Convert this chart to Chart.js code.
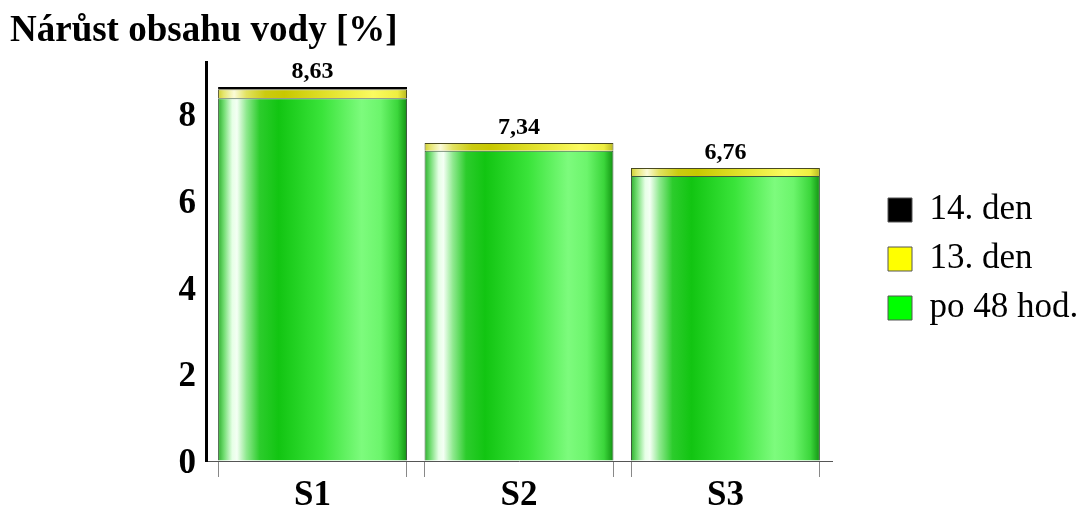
<!DOCTYPE html>
<html>
<head>
<meta charset="utf-8">
<script src="https://cdn.jsdelivr.net/npm/chart.js@4/dist/chart.umd.min.js"></script>
<style>
  html, body { margin: 0; padding: 0; background: #ffffff; }
  #wrap { width: 1087px; height: 508px; }
</style>
</head>
<body>
<div id="wrap"><canvas id="chart" width="1087" height="508"></canvas></div>
<script>
// Samples and their water-content increase, stacked by measurement time
const categories = ['S1', 'S2', 'S3'];
const after48h = [8.37, 7.16, 6.58];
const day13 = [0.21, 0.18, 0.18];
const day14 = [0.05, null, null];
const seriesNames = ['po 48 hod.', '13. den', '14. den'];
const legendFill = ['#00ff00', '#ffff00', '#000000'];
const yTickValues = [0, 2, 4, 6, 8];

const SERIF = '"Liberation Serif", "Times New Roman", serif';
const BAR_FRACTION = 0.915;
const X_MIN = -0.516, X_MAX = categories.length - 1 + 0.516;

// Horizontal "cylinder" shading for each bar segment
const greenStops = [
  [0.00, '#2fae2f'], [0.03, '#6fdc6f'], [0.075, '#e6ffe6'], [0.10, '#f4fff4'],
  [0.15, '#8fe98f'], [0.22, '#2ccc2c'], [0.32, '#12c512'], [0.55, '#3ae43a'],
  [0.76, '#7dfb7d'], [0.86, '#6cf56c'], [0.95, '#3bd63b'], [0.985, '#1ea81e'], [1.00, '#168816']
];
const yellowStops = [
  [0.00, '#cfcf30'], [0.03, '#e6e670'], [0.085, '#fbfbd8'], [0.15, '#e2e260'],
  [0.25, '#cbcb10'], [0.35, '#c8c800'], [0.60, '#e4e430'], [0.82, '#fbfb60'],
  [0.95, '#eeee40'], [1.00, '#b8b820']
];

function shaded(stops, flat) {
  return (context) => {
    if (context.type !== 'data') return flat;
    const x = context.chart.scales.x;
    if (!x) return flat;
    const c = x.getPixelForValue(context.dataIndex);
    const unit = x.getPixelForValue(1) - x.getPixelForValue(0);
    if (!isFinite(c) || !isFinite(unit) || unit <= 0) return flat;
    const half = unit * BAR_FRACTION / 2;
    const g = context.chart.ctx.createLinearGradient(c - half, 0, c + half, 0);
    stops.forEach(([o, col]) => g.addColorStop(o, col));
    return g;
  };
}

const toPoints = (arr) => arr.map((v, i) => ({ x: i, y: v }));

// Tick marks at both edges of every bar
const barEdges = [];
categories.forEach((_, i) => {
  barEdges.push(i - BAR_FRACTION / 2, i + BAR_FRACTION / 2);
});

// Total value written above each stacked bar
const totalLabels = {
  id: 'totalLabels',
  afterDatasetsDraw(chart) {
    const { ctx, scales: { x, y } } = chart;
    ctx.save();
    ctx.font = 'bold 24px ' + SERIF;
    ctx.fillStyle = '#000';
    ctx.textAlign = 'center';
    ctx.textBaseline = 'alphabetic';
    categories.forEach((_, i) => {
      const total = [after48h, day13, day14].reduce((s, arr) => s + (arr[i] || 0), 0);
      const text = total.toFixed(2).replace('.', ',');
      ctx.fillText(text, x.getPixelForValue(i), y.getPixelForValue(total) - 9);
    });
    ctx.restore();
  }
};

// Keeps a gap between the plot and the legend column
const LEGEND_BOX = 255;
const LEGEND_INSET = 42;
const legendSpacing = {
  id: 'legendSpacing',
  beforeLayout(chart) {
    const lg = chart.legend;
    if (lg && !lg._spaced) {
      const fit = lg.fit;
      lg.fit = function () { fit.call(this); this.width = LEGEND_BOX; };
      lg._spaced = true;
    }
  },
  afterLayout(chart) {
    const lg = chart.legend;
    if (!lg) return;
    lg.left = chart.chartArea.right + LEGEND_INSET;
    lg.top += 10;
  }
};

new Chart(document.getElementById('chart'), {
  type: 'bar',
  data: {
    datasets: [
      {
        label: seriesNames[0],
        data: toPoints(after48h),
        backgroundColor: shaded(greenStops, legendFill[0]),
        borderColor: '#3d5a3d',
        borderWidth: 1
      },
      {
        label: seriesNames[1],
        data: toPoints(day13),
        backgroundColor: shaded(yellowStops, legendFill[1]),
        borderColor: '#4a4a20',
        borderWidth: 1
      },
      {
        label: seriesNames[2],
        data: toPoints(day14),
        backgroundColor: legendFill[2],
        borderColor: '#000000',
        borderWidth: 1
      }
    ]
  },
  options: {
    responsive: false,
    animation: false,
    devicePixelRatio: 1,
    layout: { padding: { left: 10, top: 0, right: 0, bottom: 0 } },
    datasets: { bar: { barPercentage: BAR_FRACTION, categoryPercentage: 1 } },
    scales: {
      x: {
        type: 'linear',
        position: 'bottom',
        offset: false,
        min: X_MIN,
        max: X_MAX,
        stacked: true,
        weight: 1,
        afterBuildTicks: (s) => { s.ticks = categories.map((_, i) => ({ value: i })); },
        afterFit: (s) => { s.height = 47; },
        grid: { display: true, offset: false, drawOnChartArea: false, drawTicks: false, color: 'rgba(0,0,0,0)' },
        border: { display: true, color: '#555', width: 1 },
        ticks: {
          autoSkip: false,
          maxRotation: 0,
          padding: 14,
          color: '#000',
          font: { family: SERIF, size: 35, weight: 'bold' },
          callback: (v) => categories[v] ?? ''
        }
      },
      x2: {
        type: 'linear',
        position: 'bottom',
        offset: false,
        min: X_MIN,
        max: X_MAX,
        weight: 0,
        afterBuildTicks: (s) => { s.ticks = barEdges.map((v) => ({ value: v })); },
        afterFit: (s) => { s.height = 0; },
        grid: { offset: false, drawOnChartArea: false, drawTicks: true, tickLength: 16, color: '#888', lineWidth: 1 },
        border: { display: false },
        ticks: { display: false }
      },
      y: {
        type: 'linear',
        min: 0,
        max: 9.2,
        stacked: true,
        afterBuildTicks: (s) => { s.ticks = yTickValues.map((v) => ({ value: v })); },
        afterFit: (s) => { s.width = 196; },
        grid: { drawOnChartArea: false, drawTicks: false },
        border: { display: true, color: '#000', width: 3 },
        ticks: {
          padding: 10,
          labelOffset: 3,
          color: '#000',
          font: { family: SERIF, size: 35, weight: 'bold' },
          callback: (v) => String(v)
        }
      }
    },
    plugins: {
      title: {
        display: true,
        text: 'Nárůst obsahu vody [%]',
        align: 'start',
        color: '#000',
        font: { family: SERIF, size: 37, weight: 'bold' },
        padding: { top: 9, bottom: 9 }
      },
      legend: {
        position: 'right',
        reverse: true,
        labels: {
          boxWidth: 24,
          boxHeight: 24,
          padding: 14,
          color: '#000',
          font: { family: SERIF, size: 35 },
          generateLabels(chart) {
            const items = Chart.defaults.plugins.legend.labels.generateLabels(chart);
            items.forEach((it) => {
              it.fillStyle = legendFill[it.datasetIndex];
              it.strokeStyle = '#555';
              it.lineWidth = 1;
            });
            return items;
          }
        }
      },
      tooltip: { enabled: false }
    }
  },
  plugins: [totalLabels, legendSpacing]
});
</script>
</body>
</html>
